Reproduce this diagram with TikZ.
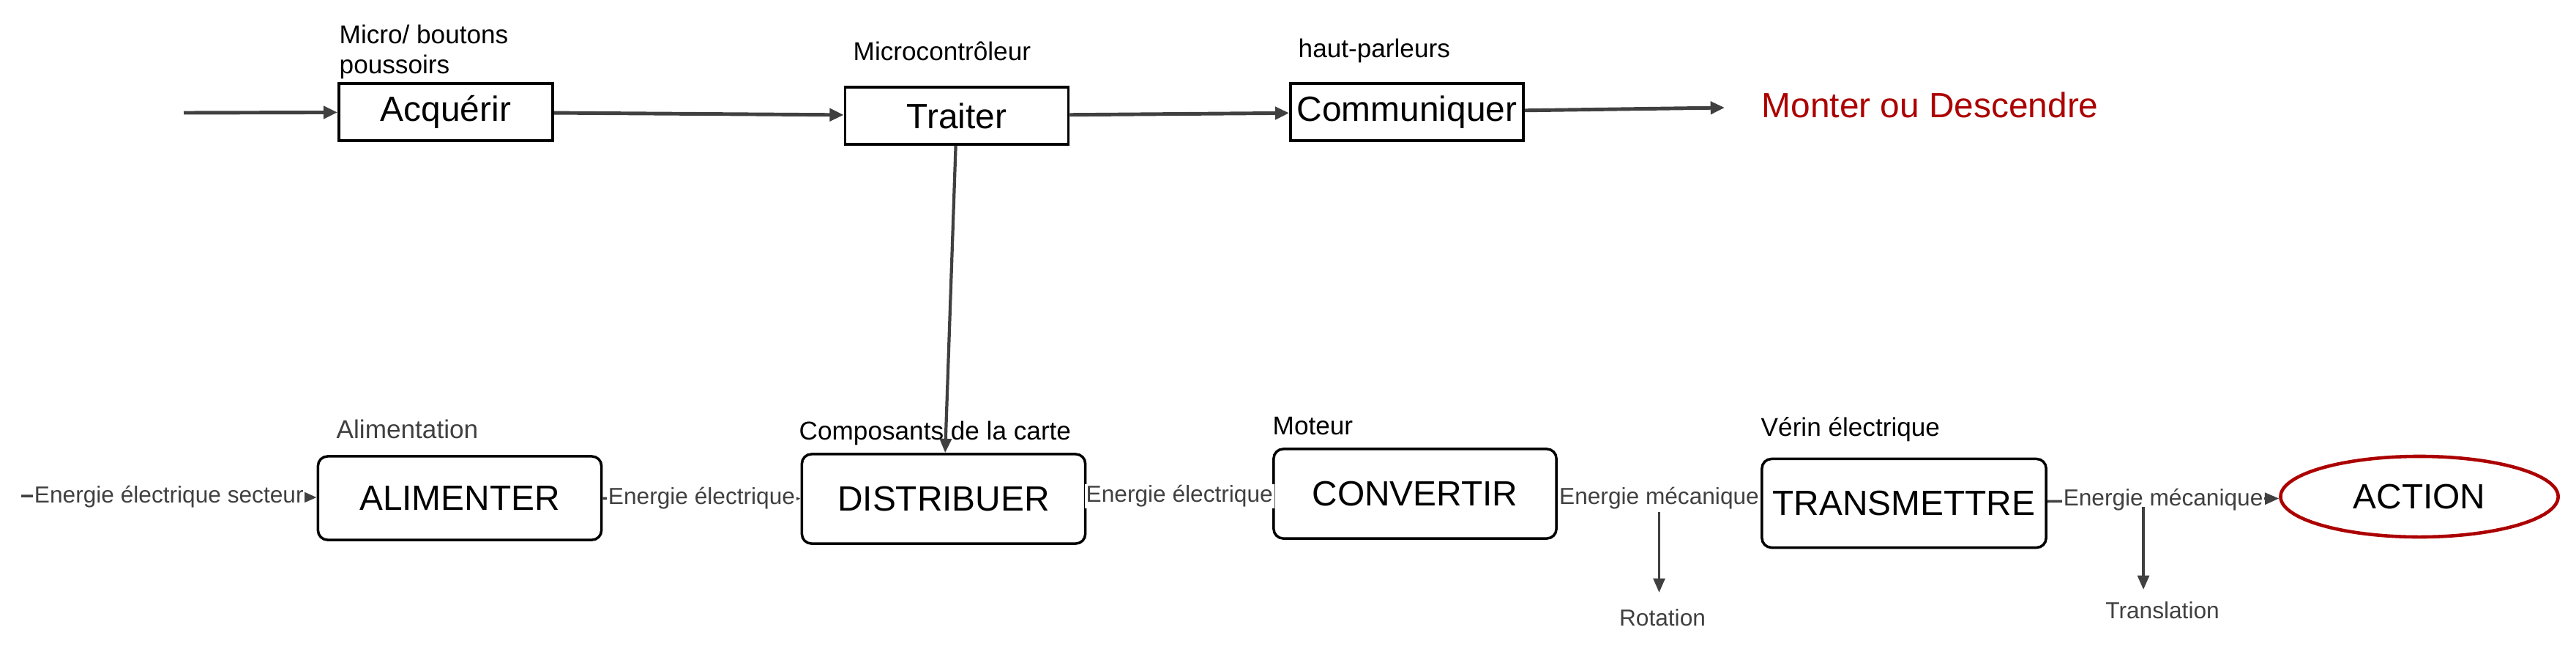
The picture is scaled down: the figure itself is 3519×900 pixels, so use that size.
\documentclass[tikz,border=0pt]{standalone}
\usepackage{fontspec}
\setmainfont{Liberation Sans}
\usetikzlibrary{arrows.meta,shapes.geometric}
\definecolor{flowgray}{RGB}{64,64,64}
\definecolor{actred}{RGB}{172,0,0}
\begin{document}
\begin{tikzpicture}[x=0.01cm,y=-0.01cm,
  fbox/.style={draw=black,line width=1pt,minimum height=0.78cm,inner sep=0pt,font=\fontsize{13.6}{16}\selectfont},
  ebox/.style={draw=black,line width=1pt,rounded corners=0.13cm,inner sep=0pt,font=\fontsize{13.6}{16}\selectfont},
  info/.style={anchor=base west,inner sep=0pt,font=\fontsize{10}{11.7}\selectfont},
  flux/.style={fill=white,inner sep=0.5pt,text=flowgray,font=\fontsize{9}{11}\selectfont},
  topflow/.style={draw=flowgray,line width=1.4pt,-{Triangle[length=5.5pt,width=4.8pt]}},
  botflow/.style={draw=flowgray,line width=1pt,-{Triangle[length=5.5pt,width=4.5pt]}}]
\useasboundingbox (0,0) rectangle (3519,900);

% chaine d'information
\node[fbox,minimum width=2.92cm] (acq) at (609,153) {Acquérir};
\node[fbox,minimum width=3.05cm] (tra) at (1307,158) {Traiter};
\node[fbox,minimum width=3.18cm] (com) at (1922,153) {Communiquer};
\node[info,anchor=north west,align=left] (mic) at (463,33) {Micro/ boutons\\poussoirs};
\node[info] (mcu) at (1165,82) {Microcontrôleur};
\node[info] (hp) at (1773,78) {haut-parleurs};
\node[anchor=west,inner sep=0pt,text=actred,font=\fontsize{13.6}{16}\selectfont] (res) at (2406,143) {Monter ou Descendre};
\coordinate (in) at (251,154);
\coordinate (out) at (2356,147);
\draw[topflow] (in) -- (acq);
\draw[topflow] (acq) -- (tra);
\draw[topflow] (tra) -- (com);
\draw[topflow] (com) -- (out);

% chaine d'energie
\node[ebox,minimum width=3.87cm,minimum height=1.14cm] (ali) at (628,680) {ALIMENTER};
\node[ebox,minimum width=3.87cm,minimum height=1.22cm] (dis) at (1289,681) {DISTRIBUER};
\node[ebox,minimum width=3.86cm,minimum height=1.22cm] (conv) at (1933,674) {CONVERTIR};
\node[ebox,minimum width=3.88cm,minimum height=1.21cm] (trans) at (2601,687) {TRANSMETTRE};
\node[ellipse,draw=actred,line width=1.3pt,minimum width=3.79cm,minimum height=1.10cm,inner sep=0pt,font=\fontsize{13.6}{16}\selectfont] (act) at (3305,678) {ACTION};
\node[info,text=flowgray] (alim) at (459,598) {Alimentation};
\node[info] (carte) at (1091,600) {Composants de la carte};
\node[info] (mot) at (1738,593) {Moteur};
\node[info] (verin) at (2405,595) {Vérin électrique};
\coordinate (src) at (29,677);
\draw[botflow] (src) -- node[flux] (ee0) {Energie électrique secteur} (ali);
\draw[botflow] (ali) -- node[flux] (ee1) {Energie électrique} (dis);
\draw[botflow] (dis) -- node[flux] (ee2) {Energie électrique} (conv);
\draw[botflow] (conv) -- node[flux] (em1) {Energie mécanique} (trans);
\draw[botflow] (trans) -- node[flux] (em2) {Energie mécanique} (act);
\draw[botflow,line width=1.2pt] (tra) -- (dis);

\node[flux,fill=none] (rot) at (2271,843) {Rotation};
\node[flux,fill=none] (trl) at (2954,833) {Translation};
\coordinate (tr) at (2928,692);
\draw[botflow,shorten >=0.2cm] (em1.south) -- (em1.south |- rot.north);
\draw[botflow,shorten >=0.14cm] (tr) -- (tr |- trl.north);
\end{tikzpicture}
\end{document}
